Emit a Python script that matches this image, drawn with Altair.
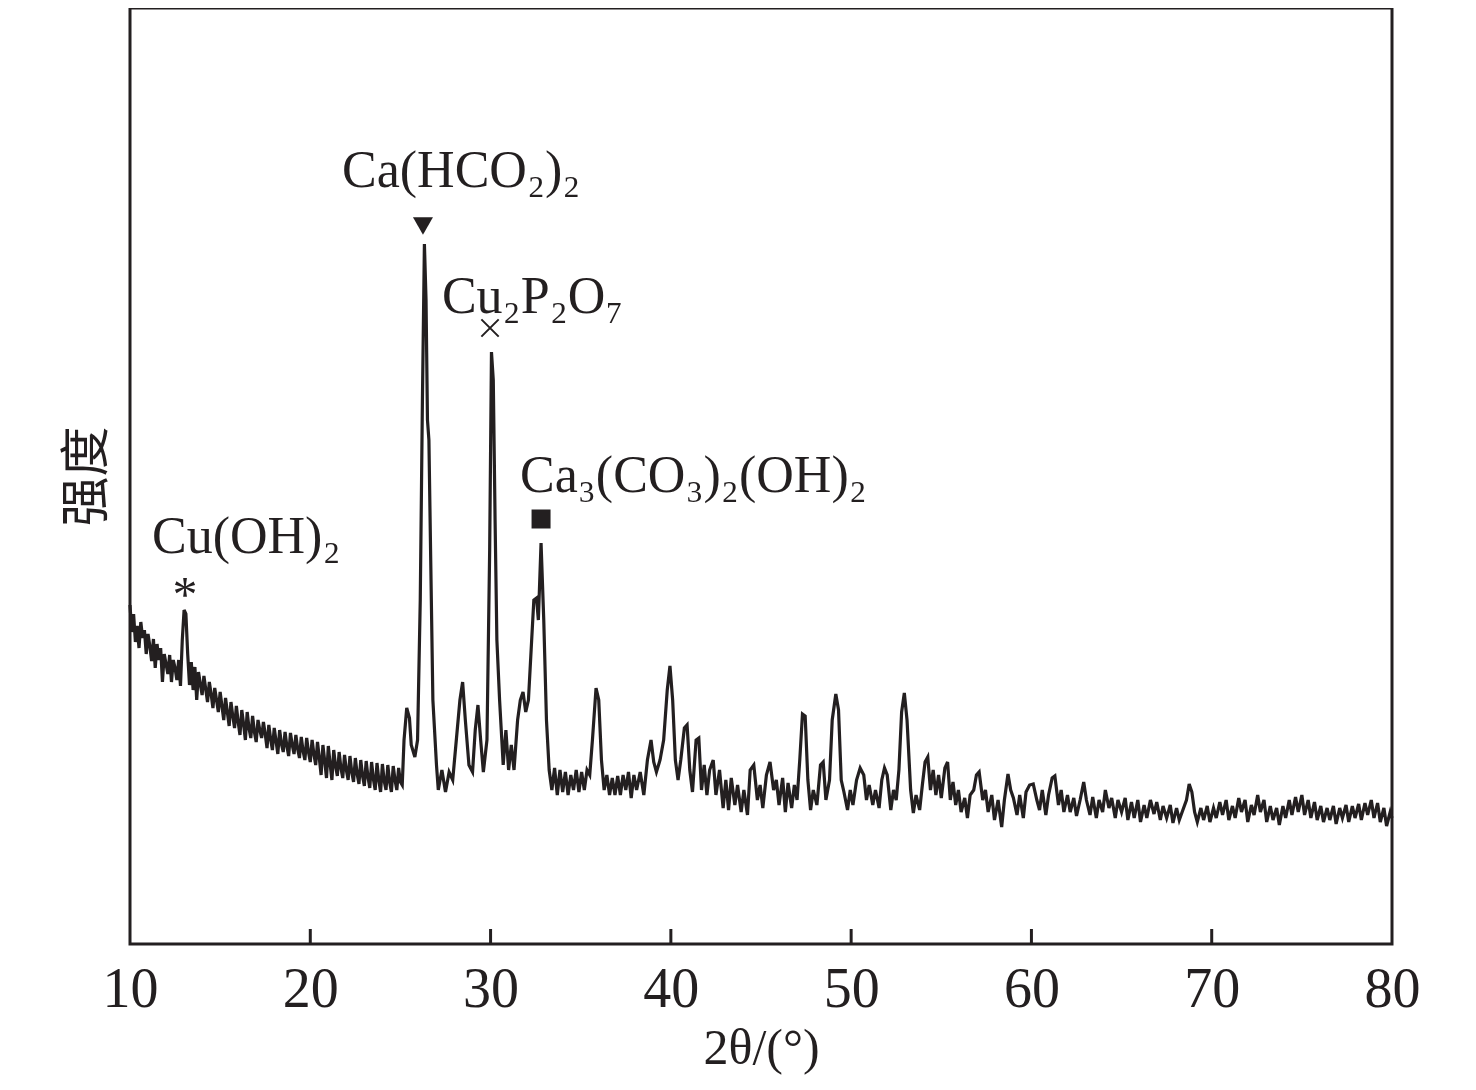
import altair as alt
import pandas as pd

# ---- XRD pattern (2theta in degrees, intensity in arbitrary units) ----
two_theta = [
    10.0, 10.1, 10.2, 10.3, 10.4, 10.5, 10.6, 10.7, 10.8, 10.9, 11.0, 11.1, 11.2, 11.3, 11.4, 11.5, 11.6, 11.7,
    11.8, 11.9, 12.0, 12.1, 12.2, 12.3, 12.4, 12.5, 12.6, 12.7, 12.8, 12.9, 13.0, 13.1, 13.2, 13.3, 13.4, 13.5,
    13.6, 13.7, 13.8, 13.9, 14.0, 14.1, 14.2, 14.3, 14.4, 14.5, 14.6, 14.7, 14.8, 14.9, 15.0, 15.1, 15.2, 15.3,
    15.4, 15.5, 15.6, 15.7, 15.8, 15.9, 16.0, 16.1, 16.2, 16.3, 16.4, 16.5, 16.6, 16.7, 16.8, 16.9, 17.0, 17.1,
    17.2, 17.3, 17.4, 17.5, 17.6, 17.7, 17.8, 17.9, 18.0, 18.1, 18.2, 18.3, 18.4, 18.5, 18.6, 18.7, 18.8, 18.9,
    19.0, 19.1, 19.2, 19.3, 19.4, 19.5, 19.6, 19.7, 19.8, 19.9, 20.0, 20.1, 20.2, 20.3, 20.4, 20.5, 20.6, 20.7,
    20.8, 20.9, 21.0, 21.1, 21.2, 21.3, 21.4, 21.5, 21.6, 21.7, 21.8, 21.9, 22.0, 22.1, 22.2, 22.3, 22.4, 22.5,
    22.6, 22.7, 22.8, 22.9, 23.0, 23.1, 23.2, 23.3, 23.4, 23.5, 23.6, 23.7, 23.8, 23.9, 24.0, 24.1, 24.2, 24.3,
    24.4, 24.5, 24.6, 24.7, 24.8, 24.9, 25.0, 25.1,
    25.2, 25.35, 25.5, 25.6, 25.8, 25.95, 26.1, 26.22, 26.33, 26.42, 26.5, 26.58, 26.68, 26.8,
    27.0, 27.1, 27.3, 27.5, 27.7, 27.9, 28.1, 28.3, 28.45, 28.6, 28.8, 29.0, 29.15, 29.3, 29.45, 29.6, 29.8,
    29.95, 30.05, 30.15, 30.25, 30.35, 30.5, 30.7, 30.85, 31.0, 31.15, 31.3, 31.5, 31.65, 31.8, 31.95, 32.1,
    32.25, 32.4, 32.55, 32.65, 32.8, 32.95, 33.1, 33.25, 33.4, 33.55, 33.7, 33.85, 34.0, 34.15, 34.3, 34.45,
    34.6, 34.75, 34.9, 35.05, 35.2, 35.35, 35.5, 35.65, 35.85, 36.0, 36.15, 36.3, 36.45, 36.6, 36.75, 36.9,
    37.05, 37.2, 37.35, 37.5, 37.65, 37.8, 37.95, 38.1, 38.3, 38.5, 38.7, 38.9, 39.05, 39.2, 39.4, 39.6, 39.8,
    39.95, 40.1, 40.25, 40.4, 40.55, 40.75, 40.9, 41.05, 41.2, 41.4, 41.55, 41.7, 41.85, 42.0, 42.15, 42.35,
    42.5, 42.7, 42.9, 43.05, 43.2, 43.35, 43.55, 43.7, 43.9, 44.05, 44.25, 44.4, 44.6, 44.8, 44.95, 45.1, 45.3,
    45.5, 45.7, 45.85, 46.0, 46.2, 46.35, 46.5, 46.7, 46.85, 47.0, 47.15, 47.3, 47.45, 47.6, 47.75, 47.9, 48.1,
    48.3, 48.45, 48.6, 48.8, 48.95, 49.15, 49.3, 49.45, 49.6, 49.8, 49.95, 50.1, 50.3, 50.5, 50.7, 50.85, 51.0,
    51.2, 51.35, 51.55, 51.7, 51.85, 52.0, 52.2, 52.35, 52.5, 52.65, 52.8, 52.95, 53.1, 53.3, 53.45, 53.6, 53.8,
    53.95, 54.1, 54.25, 54.4, 54.55, 54.7, 54.85, 55.0, 55.2, 55.35, 55.5, 55.65, 55.8, 55.95, 56.1, 56.3,
    56.45, 56.6, 56.8, 56.95, 57.1, 57.3, 57.45, 57.6, 57.8, 57.95, 58.15, 58.35, 58.5, 58.7, 58.85, 59.0,
    59.2, 59.35, 59.55, 59.7, 59.9, 60.1, 60.3, 60.45, 60.6, 60.8, 60.95, 61.15, 61.3, 61.5, 61.65, 61.8, 62.0,
    62.15, 62.35, 62.5, 62.7, 62.9, 63.05, 63.25, 63.4, 63.6, 63.75, 63.95, 64.1, 64.3, 64.45, 64.65, 64.8,
    65.0, 65.2, 65.35, 65.55, 65.7, 65.9, 66.05, 66.25, 66.4, 66.6, 66.8, 66.95, 67.15, 67.3, 67.5, 67.7,
    67.85, 68.05, 68.2, 68.4, 68.6, 68.75, 68.9, 69.05, 69.2, 69.4, 69.55, 69.75, 69.9, 70.1, 70.25, 70.45,
    70.6, 70.8, 70.95, 71.15, 71.3, 71.5, 71.65, 71.85, 72.0, 72.2, 72.35, 72.55, 72.7, 72.9, 73.05, 73.25,
    73.4, 73.6, 73.75, 73.95, 74.1, 74.3, 74.45, 74.65, 74.8, 75.0, 75.15, 75.35, 75.5, 75.7, 75.85, 76.05,
    76.2, 76.4, 76.55, 76.75, 76.9, 77.1, 77.25, 77.45, 77.6, 77.8, 77.95, 78.15, 78.3, 78.5, 78.65, 78.85,
    79.0, 79.2, 79.35, 79.55, 79.7, 79.9, 80.0,
]

intensity = [
    339, 312, 330, 302, 318, 296, 322, 306, 314, 290, 310, 298, 283, 305, 276, 300, 284, 296,
    262, 290, 280, 270, 289, 262, 284, 276, 264, 284, 258, 304, 334, 330, 290, 259, 282, 254,
    277, 244, 272, 260, 249, 268, 255, 242, 262, 250, 236, 256, 244, 232, 252, 238, 224, 246,
    232, 218, 242, 228, 216, 238, 222, 209, 234, 220, 204, 232, 216, 206, 228, 212, 202, 224,
    214, 206, 222, 210, 196, 219, 205, 194, 216, 203, 190, 214, 200, 192, 212, 198, 188, 211,
    199, 190, 209, 195, 186, 207, 193, 184, 206, 192, 182, 204, 190, 179, 202, 186, 169, 199,
    183, 166, 198, 180, 164, 194, 178, 168, 192, 176, 166, 189, 174, 164, 188, 172, 162, 186,
    170, 160, 184, 168, 158, 183, 167, 156, 182, 165, 154, 181, 164, 152, 180, 163, 154, 179,
    162, 152, 178, 164, 154, 176, 162, 159,
    204, 236, 226, 199, 187, 204, 344, 544, 700, 644, 524, 504, 384, 244,
    179, 154, 174, 152, 172, 164, 204, 244, 262, 224, 179, 172, 214, 239, 204, 172, 204,
    394, 592, 564, 424, 304, 244, 179, 214, 174, 199, 174, 224, 244, 252, 232, 244,
    294, 344, 346, 324, 401, 324, 224, 174, 154, 176, 149, 174, 152, 172, 149, 169,
    154, 174, 152, 172, 154, 174, 169, 204, 256, 244, 184, 154, 169, 149, 166, 149,
    168, 149, 169, 154, 172, 146, 169, 154, 172, 149, 184, 204, 182, 172, 184, 204, 254,
    278, 244, 184, 164, 184, 216, 219, 174, 152, 204, 206, 154, 179, 149, 174, 184,
    149, 174, 136, 164, 134, 166, 139, 159, 132, 154, 129, 174, 179, 144, 159, 136, 169,
    182, 154, 164, 139, 166, 132, 161, 136, 159, 144, 184, 230, 228, 164, 134, 154, 139,
    179, 182, 144, 164, 224, 250, 234, 164, 152, 134, 154, 139, 164, 176, 169, 144, 159,
    139, 154, 136, 164, 176, 169, 134, 154, 144, 174, 232, 251, 224, 154, 131, 149, 134,
    159, 182, 187, 154, 174, 149, 169, 146, 176, 182, 144, 162, 139, 154, 132, 146,
    126, 149, 154, 169, 172, 144, 154, 132, 149, 124, 144, 117, 144, 170, 154, 146,
    129, 149, 126, 152, 159, 160, 144, 134, 154, 129, 149, 166, 168, 139, 154, 132, 149,
    132, 146, 128, 144, 162, 144, 129, 147, 126, 144, 132, 154, 136, 146, 126, 144,
    132, 146, 124, 142, 126, 144, 122, 139, 126, 144, 130, 142, 124, 138, 126, 139,
    121, 136, 124, 134, 144, 160, 152, 132, 122, 136, 124, 138, 122, 136, 126, 142,
    129, 144, 124, 138, 126, 146, 132, 144, 122, 139, 129, 149, 132, 144, 122, 138,
    124, 136, 119, 138, 126, 144, 129, 147, 132, 149, 129, 144, 126, 142, 124, 138,
    122, 136, 124, 138, 120, 136, 126, 139, 122, 138, 126, 140, 124, 141, 129, 144,
    126, 141, 122, 136, 118, 132, 126,
]

# ---- phase annotations ----
label_text = ["Cu(OH)₂", "Ca(HCO₂)₂", "Cu₂P₂O₇", "Ca₃(CO₃)₂(OH)₂"]
label_x = [11.22, 21.76, 27.30, 31.63]
label_y = [391, 757, 631, 452]

star_x, star_y = [13.05], [333]
cross_x, cross_y = [29.97], [616]
tri_x, tri_y = [26.25], [718]
sq_x, sq_y = [32.8], [425]

tick_values = [20, 30, 40, 50, 60, 70]

INK = "#231f20"
SERIF = "Liberation Serif, Times New Roman, DejaVu Serif, serif"

xs = alt.Scale(domain=[10, 80], nice=False, zero=False)
ys = alt.Scale(domain=[0, 936], nice=False, zero=False)

curve_df = pd.DataFrame({"two_theta": two_theta, "intensity": intensity})

curve = alt.Chart(curve_df).mark_line(color=INK, strokeWidth=3.2, strokeJoin="miter").encode(
    x=alt.X("two_theta:Q", scale=xs,
            axis=alt.Axis(values=[10, 20, 30, 40, 50, 60, 70, 80], title="2θ/(°)",
                          labelFont=SERIF, labelFontSize=56, labelColor=INK, labelFlush=False,
                          labelPadding=18, ticks=False, tickSize=0, domain=False, grid=False,
                          titleFont=SERIF, titleFontSize=50, titleFontWeight="normal",
                          titleColor=INK, titlePadding=6)),
    y=alt.Y("intensity:Q", scale=ys,
            axis=alt.Axis(labels=False, ticks=False, tickSize=0, domain=False, grid=False,
                          title="强度", titleFont="Noto Sans CJK SC", titleFontSize=50,
                          titleFontWeight="normal", titleColor=INK, titlePadding=18)),
)

ticks = alt.Chart(pd.DataFrame({"t": tick_values})).mark_rule(color=INK, strokeWidth=3).encode(
    x=alt.X("t:Q", scale=xs),
    y=alt.value(936),
    y2=alt.value(921),
)

labels = alt.Chart(pd.DataFrame({"txt": label_text, "x": label_x, "y": label_y})).mark_text(
    align="left", baseline="alphabetic", font=SERIF, fontSize=52, color=INK
).encode(x=alt.X("x:Q", scale=xs), y=alt.Y("y:Q", scale=ys), text="txt:N")

star = alt.Chart(pd.DataFrame({"x": star_x, "y": star_y})).mark_text(
    text="*", align="center", baseline="alphabetic", font=SERIF, fontSize=50, color=INK
).encode(x=alt.X("x:Q", scale=xs), y=alt.Y("y:Q", scale=ys))

cross = alt.Chart(pd.DataFrame({"x": cross_x, "y": cross_y})).mark_point(
    shape="M-1,-1L1,1M-1,1L1,-1", size=300, filled=False, stroke=INK, strokeWidth=2, opacity=1
).encode(x=alt.X("x:Q", scale=xs), y=alt.Y("y:Q", scale=ys))

tri = alt.Chart(pd.DataFrame({"x": tri_x, "y": tri_y})).mark_point(
    shape="triangle-down", size=400, filled=True, color=INK, opacity=1
).encode(x=alt.X("x:Q", scale=xs), y=alt.Y("y:Q", scale=ys))

sq = alt.Chart(pd.DataFrame({"x": sq_x, "y": sq_y})).mark_point(
    shape="square", size=361, filled=True, color=INK, opacity=1
).encode(x=alt.X("x:Q", scale=xs), y=alt.Y("y:Q", scale=ys))

chart = alt.layer(curve, ticks, labels, star, cross, tri, sq).properties(
    width=1262, height=936,
    autosize=alt.AutoSizeParams(type="none"),
    padding={"left": 122, "top": 0, "right": 40, "bottom": 140},
    background="white",
).configure_view(stroke=INK, strokeWidth=3)

chart.save("out.html", embed_options={"renderer": "svg", "actions": False})
